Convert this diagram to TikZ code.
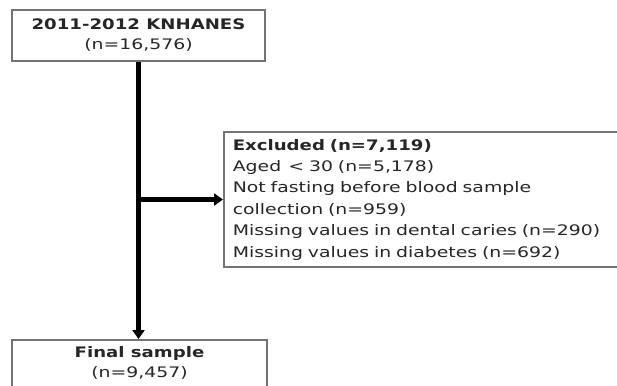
\documentclass[tikz,border=0pt]{standalone}
\usepackage{fontspec}
\setmainfont{DejaVu Sans}[FakeStretch=1.3, BoldFeatures={FakeStretch=1.25}]
\usetikzlibrary{arrows.meta}

\tikzset{
  caja/.style={draw=black!55, line width=1.6pt, inner sep=0pt, text=black!85,
    font=\fontsize{14.5}{20}\selectfont},
  flecha/.style={line width=4.5pt, -{Triangle[length=9pt,width=12pt]}}
}

\begin{document}
\begin{tikzpicture}[x=1pt,y=-1pt]
\useasboundingbox (0,0) rectangle (617,385);
\clip (0,0) rectangle (617,385);

% Cajas
\node[caja, minimum width=253pt, minimum height=51pt, align=center] (fuente) at (138.5,35.5)
  {\textbf{2011-2012 KNHANES}\\(n=16,576)};

\node[caja, anchor=west, minimum height=135pt, text width=380pt, inner xsep=9pt, align=left,
  font=\fontsize{14.5}{21.4}\selectfont] (excluidos) at (223,199.5)
  {\textbf{Excluded (n=7,119)}\\
   Aged \,< 30 (n=5,178)\\
   Not fasting before blood sample\\
   collection (n=959)\\
   Missing values in dental caries (n=290)\\
   Missing values in diabetes (n=692)};

\node[caja, anchor=north, minimum width=255pt, inner ysep=7pt, text depth=40pt, align=center] (final) at (139.5,339)
  {\textbf{Final sample}\\(n=9,457)};

% Flechas
\draw[flecha] (fuente.south) -- (fuente.south |- final.north);
\coordinate (rama) at (fuente.south |- excluidos.west);
\draw[flecha] (rama) -- (excluidos.west);
\end{tikzpicture}
\end{document}
